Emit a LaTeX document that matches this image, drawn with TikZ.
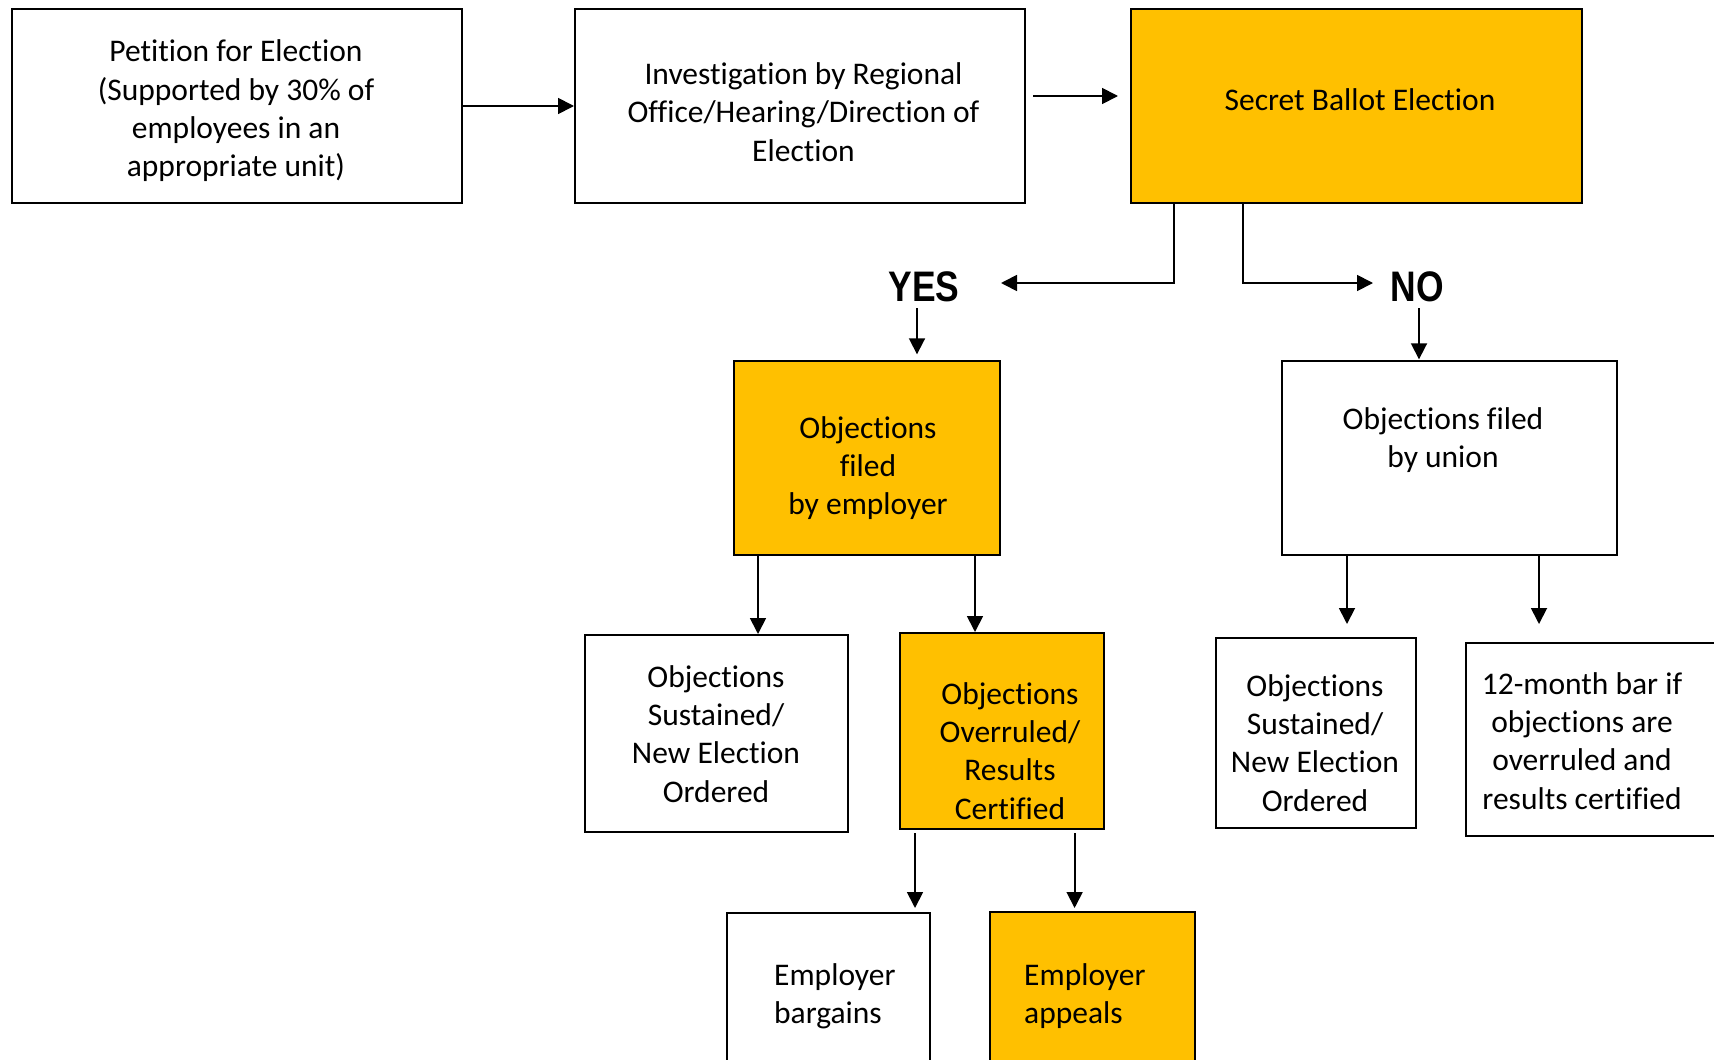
\documentclass[tikz,border=0pt]{standalone}
\usepackage{fontspec}
\setmainfont[Ligatures=NoCommon]{Carlito}
\newfontfamily\yesnofont[FakeStretch=0.83]{Liberation Sans}
\usetikzlibrary{arrows.meta,calc}
\definecolor{gold}{HTML}{FFC000}
\begin{document}
\begin{tikzpicture}[x=1pt,y=-1pt,
  box/.style={draw=black, line width=2pt, fill=white, inner sep=0pt},
  gbox/.style={box, fill=gold},
  txt/.style={font=\fontsize{31.5}{38.3}\selectfont, align=center, inner sep=0pt},
  yn/.style={font=\yesnofont\bfseries\fontsize{42.7}{46}\selectfont, inner sep=0pt},
  arr/.style={line width=1.8pt, -{Triangle[length=16pt,width=16pt]}}]
\useasboundingbox (0,0) rectangle (1714,1060);
\clip (0,0) rectangle (1714,1060);
\fill[white] (0,0) rectangle (1714,1060);
% boxes
\node[box,  minimum width=450pt, minimum height=194pt] (b1) at (237,106) {};
\node[box,  minimum width=450pt, minimum height=194pt] (b2) at (800,106) {};
\node[gbox, minimum width=451pt, minimum height=194pt] (b3) at (1356.5,106) {};
\node[gbox, minimum width=266.5pt, minimum height=194pt] (emp) at (866.75,458) {};
\node[box,  minimum width=335pt, minimum height=194pt] (uni) at (1449.5,458) {};
\node[box,  minimum width=263pt, minimum height=197pt] (susL) at (716.5,733.5) {};
\node[gbox, minimum width=204pt, minimum height=196pt] (over) at (1002,731) {};
\node[box,  minimum width=200pt, minimum height=190pt] (susR) at (1315.5,733) {};
\node[box,  minimum width=294pt, minimum height=193pt] (bar12) at (1613,739.5) {};
\node[box,  minimum width=203pt, minimum height=187pt] (barg) at (828.5,1006.5) {};
\node[gbox, minimum width=205pt, minimum height=188pt] (appl) at (1092.5,1006) {};
% texts
\node[txt] (t1) at (236,111) {Petition for Election\\(Supported by 30\% of\\employees in an\\appropriate unit)};
\node[txt] (t2) at (803.5,112) {Investigation by Regional\\Office/Hearing/Direction of\\Election};
\node[txt] (t3) at (1360,100) {Secret Ballot Election};
\node[txt] (temp) at (868,468) {Objections\\filed\\by employer};
\node[txt] (tuni) at (1443,440) {Objections filed\\by union};
\node[txt] (tsusL) at (716,734) {Objections\\Sustained/\\New Election\\Ordered};
\node[txt] (tover) at (1010,751) {Objections\\Overruled/\\Results\\Certified};
\node[txt] (tsusR) at (1315,743) {Objections\\Sustained/\\New Election\\Ordered};
\node[txt] (t12) at (1582,741) {12-month bar if\\objections are\\overruled and\\results certified};
\node[txt, align=left, anchor=west] (tbarg) at (774,996) {Employer\\bargains};
\node[txt, align=left, anchor=west] (tappl) at (1024,996) {Employer\\appeals};
% YES / NO
\node[yn] (yes) at (924,287) {YES};
\node[yn] (no) at (1417,287) {NO};
\coordinate (yesTip) at (1001,283);
\coordinate (noTip) at (1373,283);
% connectors
\draw[arr] (b1.east) -- (b2.west);
\draw[arr] ($(b2.east)+(7,-10)$) -- ($(b3.west)+(-12,-10)$);
\draw[arr] ($(b3.south west)+(44,0)$) |- (yesTip);
\draw[arr] ($(b3.south west)+(113,0)$) |- (noTip);
\draw[arr] ($(yes.south)+(-7,6)$) -- ++(0,46);
\draw[arr] ($(no.south)+(2,6)$) -- ++(0,51);
\draw[arr] ($(emp.south west)+(25.5,0)$) -- ($(susL.north west)+(174,0)$);
\draw[arr] ($(emp.south west)+(242.5,0)$) -- ($(over.north west)+(76,0)$);
\draw[arr] ($(uni.south west)+(66,0)$) -- ($(susR.north west)+(132.5,-13)$);
\draw[arr] ($(uni.south west)+(258,0)$) -- ($(bar12.north west)+(74,-18)$);
\draw[arr] ($(over.south west)+(16,3)$) -- ($(barg.north west)+(189,-4)$);
\draw[arr] ($(over.south west)+(175.6,3)$) -- ($(appl.north west)+(85.6,-3)$);
\end{tikzpicture}
\end{document}
